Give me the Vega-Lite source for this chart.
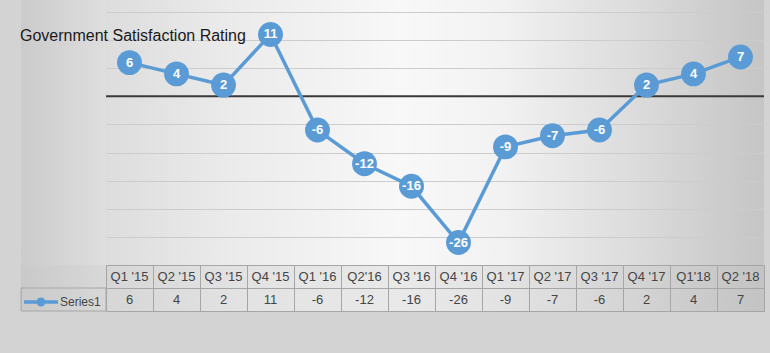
{
  "$schema": "https://vega.github.io/schema/vega-lite/v6.json",
  "datasets": {
    "ratings": [
      {"quarter": "Q1 '15", "value": 6, "series": "Series1"},
      {"quarter": "Q2 '15", "value": 4, "series": "Series1"},
      {"quarter": "Q3 '15", "value": 2, "series": "Series1"},
      {"quarter": "Q4 '15", "value": 11, "series": "Series1"},
      {"quarter": "Q1 '16", "value": -6, "series": "Series1"},
      {"quarter": "Q2'16", "value": -12, "series": "Series1"},
      {"quarter": "Q3 '16", "value": -16, "series": "Series1"},
      {"quarter": "Q4 '16", "value": -26, "series": "Series1"},
      {"quarter": "Q1 '17", "value": -9, "series": "Series1"},
      {"quarter": "Q2 '17", "value": -7, "series": "Series1"},
      {"quarter": "Q3 '17", "value": -6, "series": "Series1"},
      {"quarter": "Q4 '17", "value": 2, "series": "Series1"},
      {"quarter": "Q1'18", "value": 4, "series": "Series1"},
      {"quarter": "Q2 '18", "value": 7, "series": "Series1"}
    ],
    "legendRows": [{"series": "Series1"}]
  },
  "padding": {"left": 20, "top": 0, "right": 7, "bottom": 42},
  "background": "#d3d3d3",
  "spacing": 0,
  "bounds": "flush",
  "columns": 2,
  "resolve": {"legend": {"color": "independent"}, "scale": {"color": "independent"}},
  "config": {
    "font": "Liberation Sans",
    "view": {"stroke": null},
    "axis": {"labels": false, "ticks": false, "domain": false, "title": null}
  },
  "concat": [
    {
      "width": 85,
      "height": 265,
      "view": {"stroke": null, "fill": {"gradient": "linear", "x1": 0, "y1": 0, "x2": 1, "y2": 0, "stops": [{"offset": 0, "color": "#cbcbcb"}, {"offset": 1, "color": "#dedede"}]}},
      "data": {"name": "legendRows"},
      "mark": {"type": "text", "text": ""},
      "encoding": {}
    },
    {
      "width": 658,
      "height": 265,
      "view": {"stroke": null, "fill": {"gradient": "linear", "x1": 0, "y1": 0, "x2": 1, "y2": 0, "stops": [{"offset": 0, "color": "#dddddd"}, {"offset": 0.19, "color": "#ebebeb"}, {"offset": 0.45, "color": "#f8f8f8"}, {"offset": 0.6, "color": "#f2f2f2"}, {"offset": 0.8, "color": "#dcdcdc"}, {"offset": 1, "color": "#c5c5c5"}]}},
      "title": {"text": "Government Satisfaction Rating", "anchor": "start", "frame": "group", "dx": -86, "offset": -44, "fontSize": 16, "fontWeight": "normal", "color": "#1a1a1a", "font": "Liberation Sans"},
      "layer": [
        {
          "data": {"name": "legendRows"},
          "mark": {"type": "rule", "color": "#3a3a3a", "strokeWidth": 2},
          "encoding": {"y": {"datum": 0, "type": "quantitative", "scale": {"domain": [-30, 17.13], "nice": false, "zero": false}, "axis": {"values": [-30, -25, -20, -15, -10, -5, 5, 10, 15], "grid": true, "gridColor": "#cccccc", "gridWidth": 1}}}
        },
        {
          "data": {"name": "ratings"},
          "encoding": {
            "x": {"field": "quarter", "type": "nominal", "sort": null, "scale": {"paddingInner": 0, "paddingOuter": 0}, "axis": null},
            "y": {"field": "value", "type": "quantitative", "scale": {"domain": [-30, 17.13], "nice": false, "zero": false}, "axis": {"values": [-30, -25, -20, -15, -10, -5, 5, 10, 15], "grid": true, "gridColor": "#cccccc", "gridWidth": 1}}
          },
          "layer": [
            {"mark": {"type": "line", "color": "#5B9BD5", "strokeWidth": 3.5}},
            {"mark": {"type": "point", "shape": "circle", "filled": true, "size": 620, "color": "#5B9BD5", "opacity": 1}},
            {"mark": {"type": "text", "color": "white", "fontSize": 13, "fontWeight": "bold", "font": "Liberation Sans"}, "encoding": {"text": {"field": "value", "type": "nominal"}}}
          ]
        }
      ]
    },
    {
      "width": 85,
      "height": 46,
      "view": {"stroke": null, "fill": {"gradient": "linear", "x1": 0, "y1": 0, "x2": 1, "y2": 0, "stops": [{"offset": 0, "color": "#c9c9c9"}, {"offset": 1, "color": "#d8d8d8"}]}},
      "data": {"name": "legendRows"},
      "mark": {"type": "rect", "filled": false, "strokeWidth": 1},
      "encoding": {
        "y": {"datum": "values", "type": "nominal", "scale": {"domain": ["header", "values"], "paddingInner": 0, "paddingOuter": 0}, "axis": null},
        "color": {
          "field": "series",
          "type": "nominal",
          "scale": {"range": ["#a6a6a6"]},
          "legend": {
            "orient": "bottom-left",
            "offset": 3,
            "padding": 0,
            "title": null,
            "symbolType": "M-1,-0.3H4.67V0.3H-1Z M1.08,0A0.75,0.75 0 1,1 2.58,0A0.75,0.75 0 1,1 1.08,0Z",
            "symbolSize": 144,
            "symbolStrokeWidth": 0,
            "symbolFillColor": "#5B9BD5",
            "labelOffset": 24,
            "labelFontSize": 12,
            "labelColor": "#454545",
            "labelFont": "Liberation Sans",
            "encode": {"symbols": {"update": {"fill": {"value": "#5B9BD5"}, "stroke": {"value": "transparent"}, "opacity": {"value": 1}}}}
          }
        }
      }
    },
    {
      "width": 658,
      "height": 46,
      "view": {"stroke": "#a6a6a6", "strokeWidth": 1, "fill": {"gradient": "linear", "x1": 0, "y1": 0, "x2": 1, "y2": 0, "stops": [{"offset": 0, "color": "#d6d6d6"}, {"offset": 0.19, "color": "#e2e2e2"}, {"offset": 0.45, "color": "#e9e9e9"}, {"offset": 0.6, "color": "#e3e3e3"}, {"offset": 0.8, "color": "#d4d4d4"}, {"offset": 1, "color": "#c3c3c3"}]}},
      "data": {"name": "ratings"},
      "encoding": {
        "x": {"field": "quarter", "type": "nominal", "sort": null, "scale": {"paddingInner": 0, "paddingOuter": 0}, "axis": {"grid": true, "tickBand": "extent", "gridColor": "#a6a6a6", "gridWidth": 1}}
      },
      "layer": [
        {
          "mark": {"type": "text", "fontSize": 13, "color": "#454545"},
          "encoding": {
            "y": {"datum": "header", "type": "nominal", "scale": {"domain": ["header", "values"], "paddingInner": 0, "paddingOuter": 0}, "axis": {"grid": true, "tickBand": "extent", "gridColor": "#a6a6a6", "gridWidth": 1}},
            "text": {"field": "quarter", "type": "nominal"}
          }
        },
        {
          "mark": {"type": "text", "fontSize": 13, "color": "#454545"},
          "encoding": {
            "y": {"datum": "values", "type": "nominal"},
            "text": {"field": "value", "type": "nominal"}
          }
        }
      ]
    }
  ]
}
